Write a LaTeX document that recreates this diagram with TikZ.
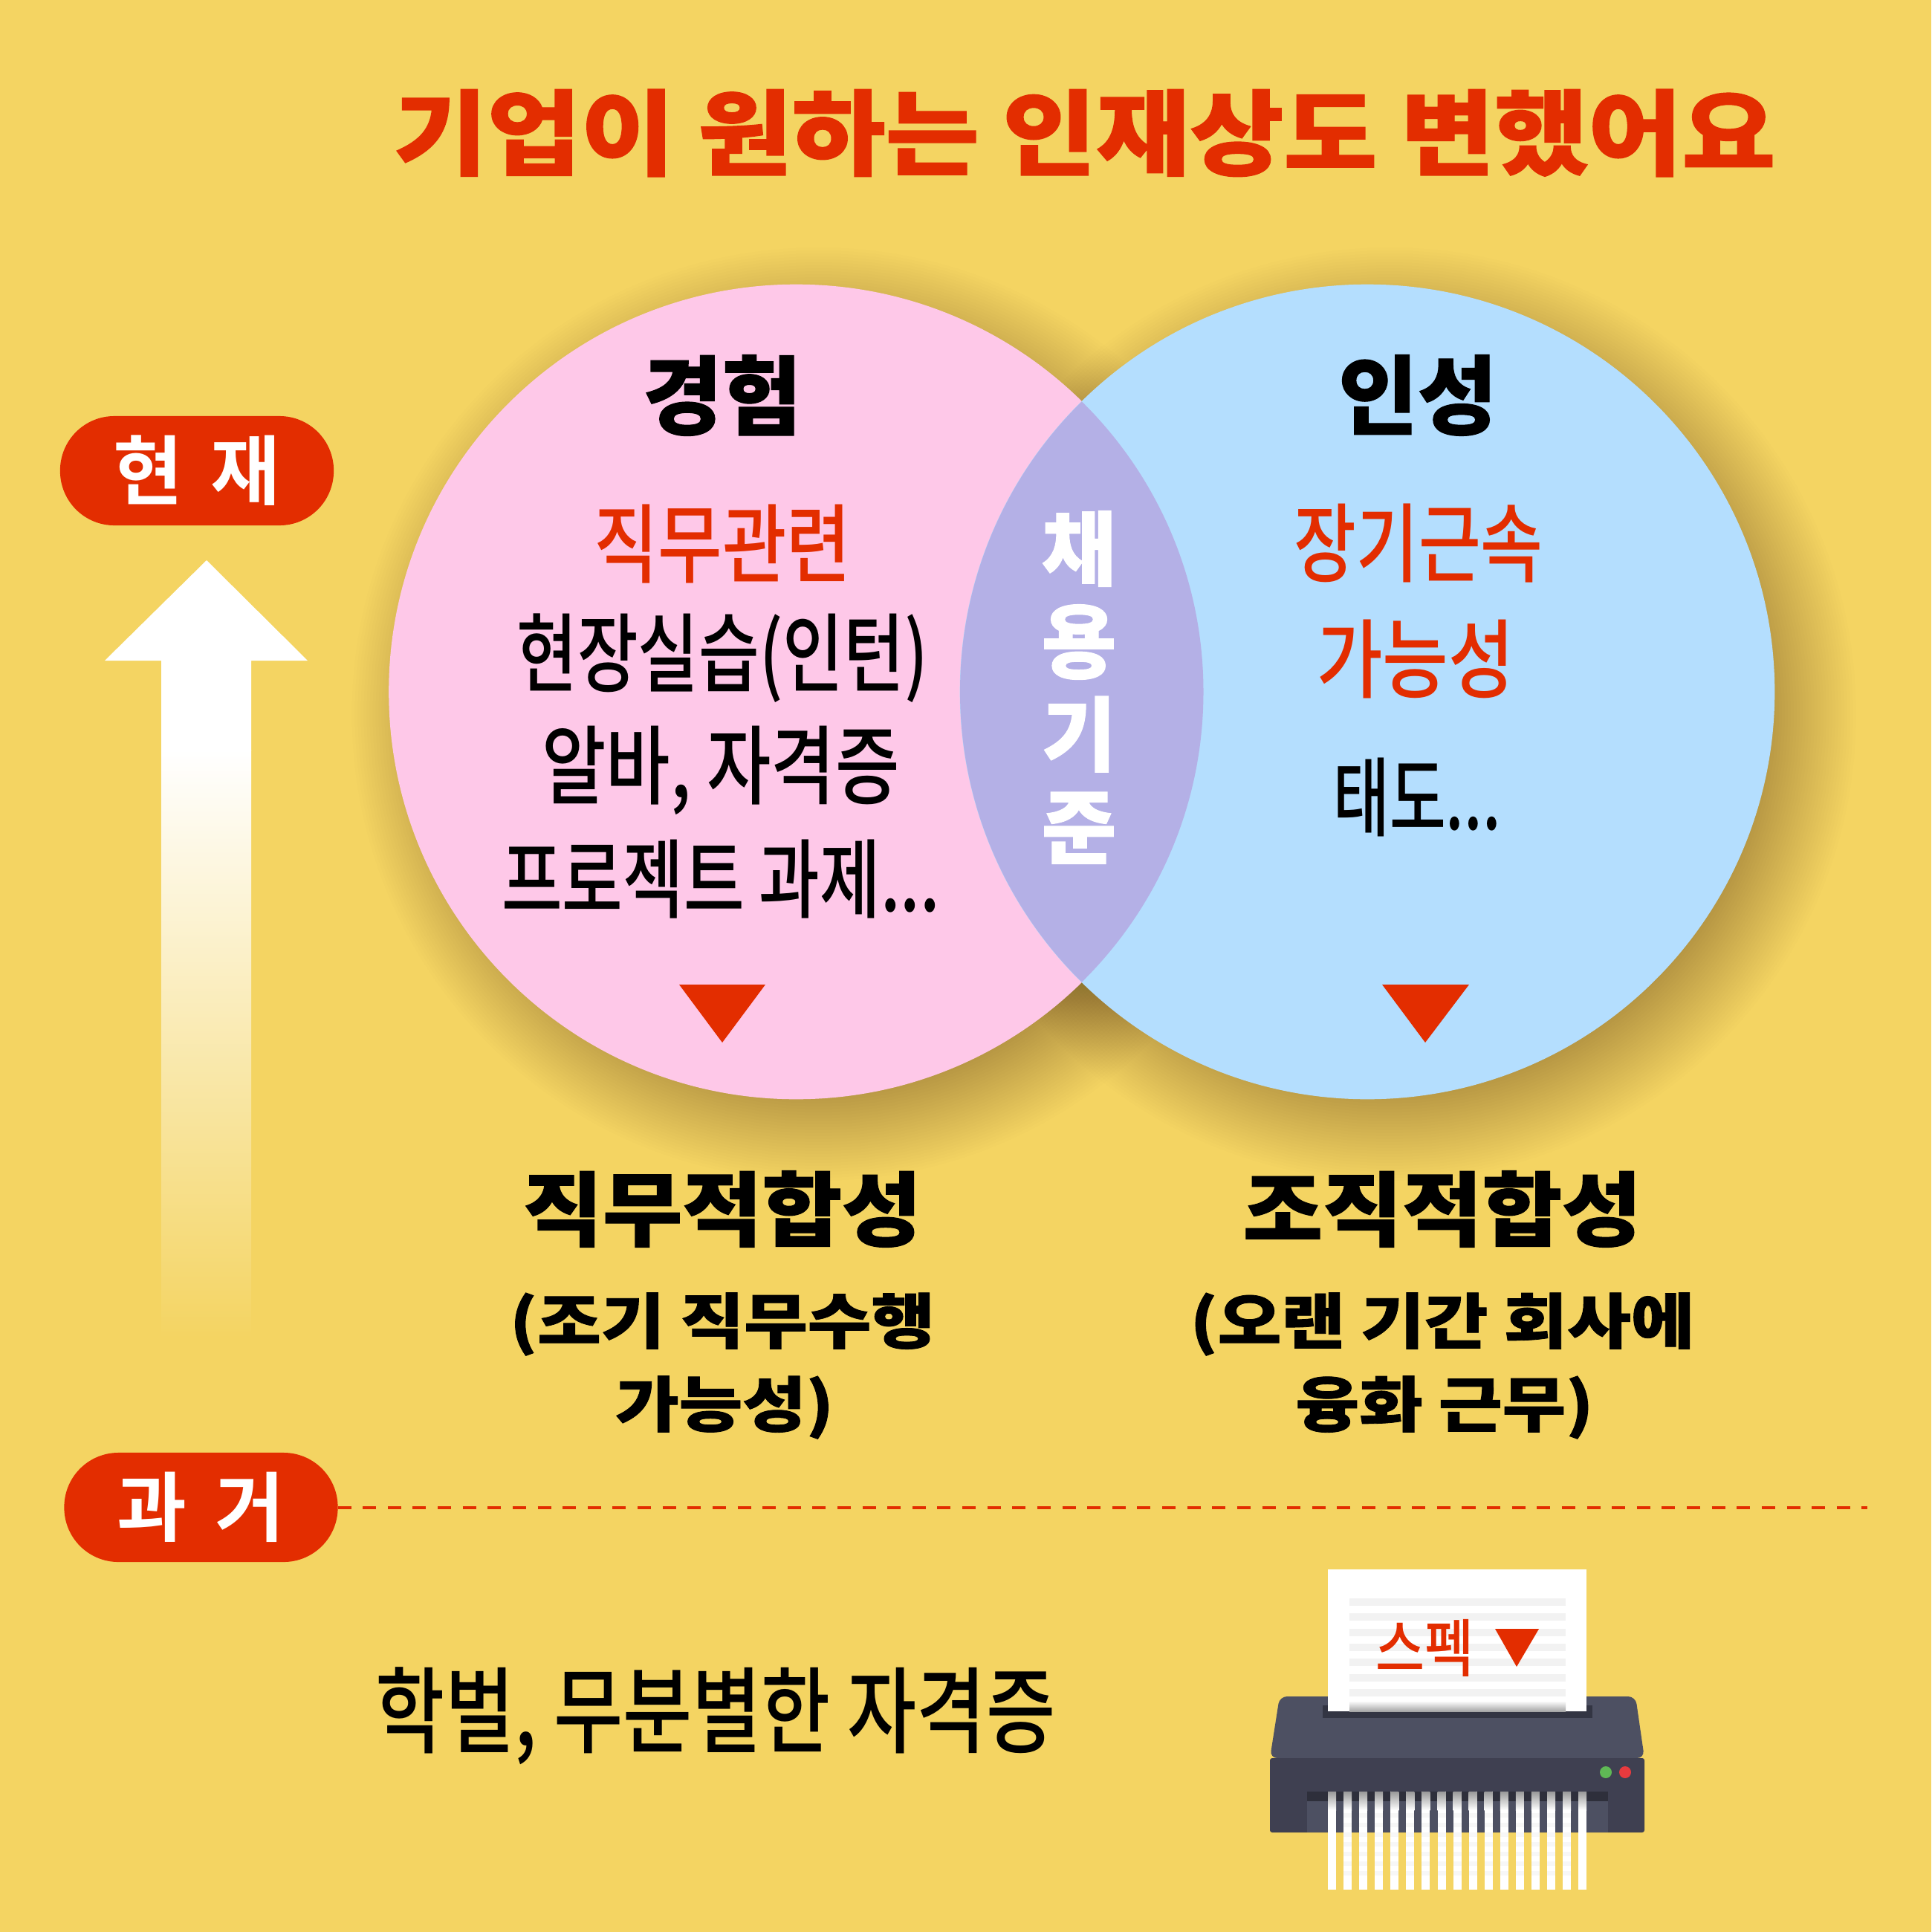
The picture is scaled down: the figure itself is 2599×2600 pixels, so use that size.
\documentclass[tikz,border=0pt]{standalone}
\usepackage{fontspec}
\usepackage{tikz}

\newfontfamily\krreg{Noto Sans CJK KR Medium}
\newfontfamily\krbold{Noto Sans CJK KR Bold}
\newfontfamily\krblack{Noto Sans CJK KR Black}[FakeBold=1]

\definecolor{bgyellow}{HTML}{F4D462}
\definecolor{redmark}{HTML}{E32D00}
\definecolor{pinkdisc}{HTML}{FEC8E8}
\definecolor{bluedisc}{HTML}{B4DEFE}
\definecolor{lensfill}{HTML}{B4B0E6}
\definecolor{topgray}{HTML}{4D5062}
\definecolor{frontgray}{HTML}{3F4051}
\definecolor{slotgray}{HTML}{333543}
\definecolor{bandgray}{HTML}{2E2F3B}
\definecolor{rowgray}{HTML}{F2F2F2}
\definecolor{stripgray}{HTML}{F7F7F7}
\definecolor{ledgreen}{HTML}{5FB955}
\definecolor{ledred}{HTML}{E83A3E}

\begin{document}
\begin{tikzpicture}[x=0.01cm, y=-0.01cm]
\tikzset{ inner sep=0pt, outer sep=0pt,
  disc/.style={circle, minimum size=10.96cm},
  pill/.style={fill=redmark, text=white, rounded corners=0.73cm, minimum width=3.68cm, minimum height=1.47cm, font=\krbold\fontsize{29pt}{29pt}\selectfont},
  headline/.style={font=\krblack\fontsize{33pt}{33pt}\selectfont},
  bodyline/.style={font=\krreg\fontsize{33pt}{33pt}\selectfont},
  fitline/.style={font=\krblack\fontsize{31pt}{31pt}\selectfont, xscale=1.07},
  subline/.style={font=\krblack\fontsize{23pt}{23pt}\selectfont, xscale=1.15},
  softring/.style={black, fill opacity=0.0085},
}

\fill [bgyellow] (0,0) rectangle (2599,2600);

\foreach \rr in {500,504,...,630} {
  \fill [softring] (1101.5,961) circle (\rr);
  \fill [softring] (1870,961) circle (\rr);
}

\node [disc, fill=pinkdisc] (expdisc) at (1071.5,931) {};
\node [disc, fill=bluedisc] (mindisc) at (1840,931) {};
\begin{scope}
\clip (1071.5,931) circle (548);
\fill [lensfill] (1840,931) circle (548);
\end{scope}

\node [font=\krblack\fontsize{35.6pt}{35.6pt}\selectfont, text=redmark, xscale=1.095] (title) at (1459.5,179) {기업이 원하는 인재상도 변했어요};

\node [pill] (now)  at (265,633.5) {현\hspace{0.37em}재};
\node [pill] (past) at (270.5,2028.5) {과\hspace{0.37em}거};

\fill [white] (278,754) -- (414,889) -- (338,889) -- (338,1010) -- (217,1010) -- (217,889) -- (141,889) -- cycle;
\shade [top color=white, bottom color=bgyellow] (217,1009) rectangle (338,1800);

\node [headline] (exphead) at (972,532) {경험};
\node [headline] (minhead) at (1908,532) {인성};

\node [bodyline, text=redmark, xscale=0.81] (job)     at (972,732) {직무관련};
\node [bodyline, xscale=0.765] (intern)  at (972,886) {현장실습(인턴)};
\node [bodyline, xscale=0.81] (parttime) at (970,1037) {알바, 자격증};
\node [bodyline, xscale=0.765] (project) at (970,1183) {프로젝트 과제...};

\node [bodyline, text=redmark, xscale=0.785] (tenure) at (1909,731) {장기근속};
\node [bodyline, text=redmark, xscale=0.83] (chance) at (1905,887) {가능성};
\node [bodyline, xscale=0.71] (attitude) at (1907,1073) {태도...};

\node [font=\krblack\fontsize{31pt}{35.5pt}\selectfont, text=white, align=center] (hire) at (1452,925) {채\\용\\기\\준};

\fill [redmark] (914,1325) -- (1030,1325) -- (972,1403) -- cycle;
\fill [redmark] (1860,1325) -- (1977,1325) -- (1918,1403) -- cycle;

\node [fitline] (jobfit) at (972,1627) {직무적합성};
\node [fitline] (orgfit) at (1941,1627) {조직적합성};

\node [subline] (joba) at (972,1782) {(조기 직무수행};
\node [subline] (jobb) at (975,1894) {가능성)};
\node [subline] (orga) at (1941,1782) {(오랜 기간 회사에};
\node [subline] (orgb) at (1944,1894) {융화 근무)};

\coordinate (dashend) at (2513,2028.5);
\draw [redmark, line width=0.04cm, dash pattern=on 0.18cm off 0.156cm] (past) -- (dashend);

\node [xscale=0.80, font=\krreg\fontsize{36pt}{36pt}\selectfont] (spec) at (963,2309) {학벌, 무분별한 자격증};

% shredder
\fill [topgray, rounded corners=0.1cm] (1709,2366) -- (1722,2283) -- (2201,2283) -- (2213,2366) -- cycle;
\fill [slotgray] (1780,2295) rectangle (2143,2312);
\fill [frontgray, rounded corners=0.03cm] (1709,2366) rectangle (2213,2466);
\fill [topgray] (1759,2411) rectangle (2164,2466);
\fill [bandgray] (1759,2411) rectangle (2164,2424);
\fill [ledgreen] (2161,2385) circle (8);
\fill [ledred] (2187,2385) circle (8);

\fill [white] (1787,2112) rectangle (2135,2303);
\foreach \ry in {2151,2171.3,2191.6,2212,2232.2,2252.5,2272.8,2293} {
  \fill [rowgray] (1816,\ry) rectangle (2107,\ry+10);
}
\shade [top color=white, bottom color=black!35] (1816,2289) rectangle (2107,2303);

\foreach \sx in {0,...,16} {
  \fill [white] (1787+\sx*21.07,2411) rectangle (1798+\sx*21.07,2543);
  \shade [top color=black!40, bottom color=white] (1787+\sx*21.07,2411) rectangle (1798+\sx*21.07,2436);
}
\foreach \sx in {1,...,15} {
  \foreach \ry in {2440,2453,...,2530} {
    \fill [stripgray] (1787+\sx*21.07,\ry) rectangle (1798+\sx*21.07,\ry+6);
  }
}

\node [font=\krreg\fontsize{24pt}{24pt}\selectfont, text=redmark, xscale=0.85] (paperword) at (1917,2218) {스펙};
\fill [redmark] (2012,2192) -- (2071,2192) -- (2041,2243) -- cycle;

\end{tikzpicture}
\end{document}
